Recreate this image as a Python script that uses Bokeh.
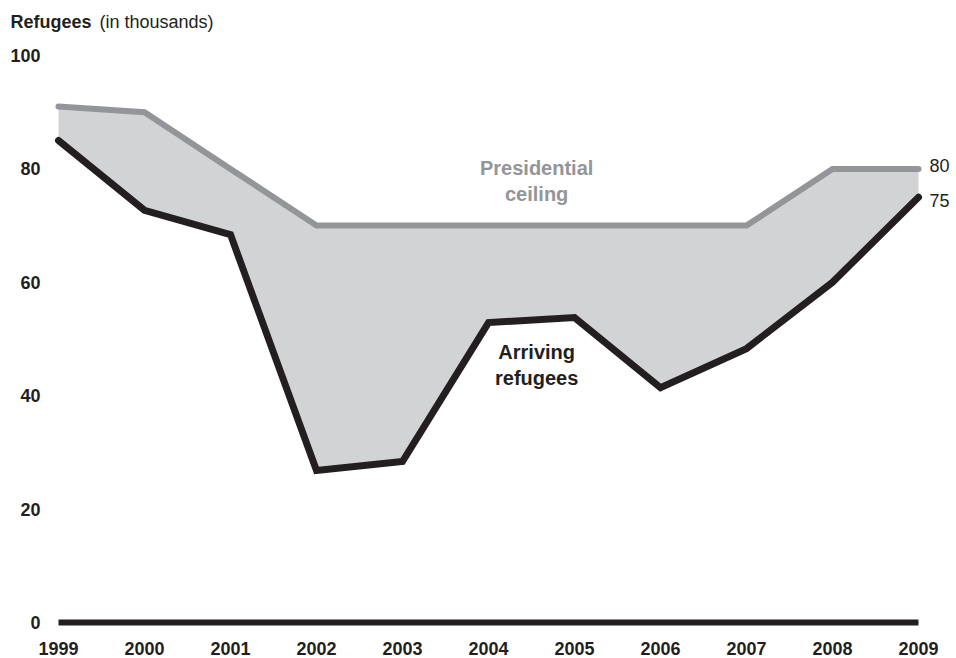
from bokeh.plotting import figure
from bokeh.models import Range1d
from bokeh.core.properties import value
from bokeh.embed import file_html
from bokeh.resources import INLINE

# Refugee admissions vs. presidential ceiling, thousands per fiscal year
years = [1999, 2000, 2001, 2002, 2003, 2004, 2005, 2006, 2007, 2008, 2009]
ceiling = [91, 90, 80, 70, 70, 70, 70, 70, 70, 80, 80]
arriving = [85, 72.7, 68.4, 26.8, 28.4, 52.9, 53.8, 41.4, 48.3, 60.0, 75]
y_ticks = [0, 20, 40, 60, 80, 100]
year_labels = [str(y) for y in years]
y_tick_labels = [str(v) for v in y_ticks]

FONT = "Liberation Sans"
INK = "#231f20"
GREY_LINE = "#939598"
GREY_FILL = "#d1d3d4"

# plot area spans the whole canvas; tick labels are placed with the scales
p = figure(width=956, height=658, output_backend="svg", toolbar_location=None,
           x_range=Range1d(1998.3256, 2009.4419),
           y_range=Range1d(-6.349, 109.70),
           x_axis_location=None, y_axis_location=None,
           min_border=0)
p.outline_line_color = None
p.grid.grid_line_color = None
p.background_fill_color = "white"
p.border_fill_color = "white"

# shaded gap between ceiling and actual arrivals
p.varea(x=years, y1=arriving, y2=ceiling, fill_color=GREY_FILL)

# zero baseline
p.line(x=[years[0], years[-1]], y=[0, 0], line_color=INK, line_width=6,
       line_cap="butt")

p.line(x=years, y=ceiling, line_color=GREY_LINE, line_width=6,
       line_cap="round", line_join="miter")
p.line(x=years, y=arriving, line_color=INK, line_width=7,
       line_cap="round", line_join="miter")

# x tick labels under the baseline
p.text(x=years, y=[0] * len(years), text=year_labels, y_offset=26,
       text_font=value(FONT), text_font_style="bold", text_font_size="18px",
       text_color=INK, text_align="center", text_baseline="middle")

# y tick labels to the left of the first year
p.text(x=[years[0]] * len(y_ticks), y=y_ticks, text=y_tick_labels,
       x_offset=-18, text_font=value(FONT), text_font_style="bold",
       text_font_size="18px", text_color=INK, text_align="right",
       text_baseline="middle")

# axis caption
p.text(x=[years[0]], y=[y_ticks[-1]], text=["Refugees"], x_offset=-48,
       y_offset=-33, text_font=value(FONT), text_font_style="bold",
       text_font_size="18px", text_color=INK, text_align="left",
       text_baseline="middle")
p.text(x=[years[0]], y=[y_ticks[-1]], text=["(in thousands)"], x_offset=41,
       y_offset=-33, text_font=value(FONT), text_font_size="18px",
       text_color=INK, text_align="left", text_baseline="middle")

# series names
p.text(x=[2004.56], y=[77.9], text=["Presidential\nceiling"],
       text_font=value(FONT), text_font_style="bold", text_font_size="20px",
       text_color=GREY_LINE, text_align="center", text_baseline="middle",
       text_line_height=1.2)
p.text(x=[2004.56], y=[45.4], text=["Arriving\nrefugees"],
       text_font=value(FONT), text_font_style="bold", text_font_size="20px",
       text_color=INK, text_align="center", text_baseline="middle",
       text_line_height=1.15)

# end-of-line values
p.text(x=[years[-1], years[-1]], y=[ceiling[-1], arriving[-1]],
       text=[str(ceiling[-1]), str(arriving[-1])], x_offset=[11, 11],
       y_offset=[-3, 3],
       text_font=value(FONT), text_font_size="18px", text_color=INK,
       text_align="left", text_baseline="middle")

open("out.html", "w").write(file_html(p, INLINE))
